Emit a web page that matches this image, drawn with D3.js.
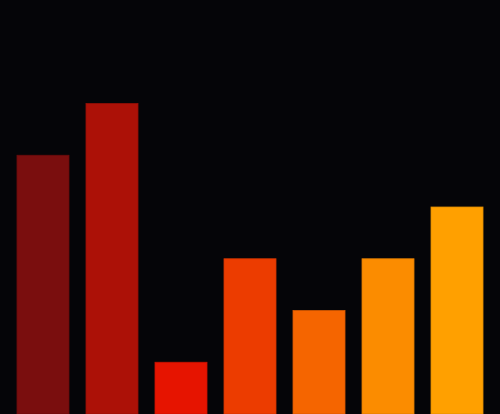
<!DOCTYPE html>
<html>
<head>
<meta charset="utf-8">
<script src="https://cdn.jsdelivr.net/npm/d3@7"></script>
<style>
  html, body { margin: 0; padding: 0; background: #050508; }
  svg { display: block; }
</style>
</head>
<body>
<div id="app"></div>
<script>
const categories = ["A", "B", "C", "D", "E", "F", "G"];
const values = [5, 6, 1, 3, 2, 3, 4];
const colors = ["#7a0e0e", "#ac1107", "#e61400", "#ec3c00", "#f56500", "#fb8c00", "#ffa000"];

function plotChart() {
    const svgWidth = 500;
    const svgHeight = 414;

    const svg = d3.select("#app").append("svg")
        .attr("width", svgWidth)
        .attr("height", svgHeight);

    svg.append("rect")
        .attr("width", svgWidth)
        .attr("height", svgHeight)
        .attr("fill", "#050508");

    // band scale for bar positions
    const x = d3.scaleBand()
        .domain(categories)
        .range([0, svgWidth])
        .paddingInner(0.246)
        .paddingOuter(0.246);

    // linear scale for bar heights
    const y = d3.scaleLinear()
        .domain([0, 8])
        .range([svgHeight, 0]);

    svg.selectAll(".bar")
        .data(values)
        .enter()
        .append("rect")
        .classed("bar", true)
        .attr("x", function(d, i) { return x(categories[i]); })
        .attr("y", function(d) { return y(d); })
        .attr("width", x.bandwidth())
        .attr("height", function(d) { return svgHeight - y(d); })
        .attr("fill", function(d, i) { return colors[i]; })
        .attr("stroke", function(d, i) { return d3.color(colors[i]).darker(0.4); })
        .attr("stroke-width", 0.8);
}

plotChart();
</script>
</body>
</html>
